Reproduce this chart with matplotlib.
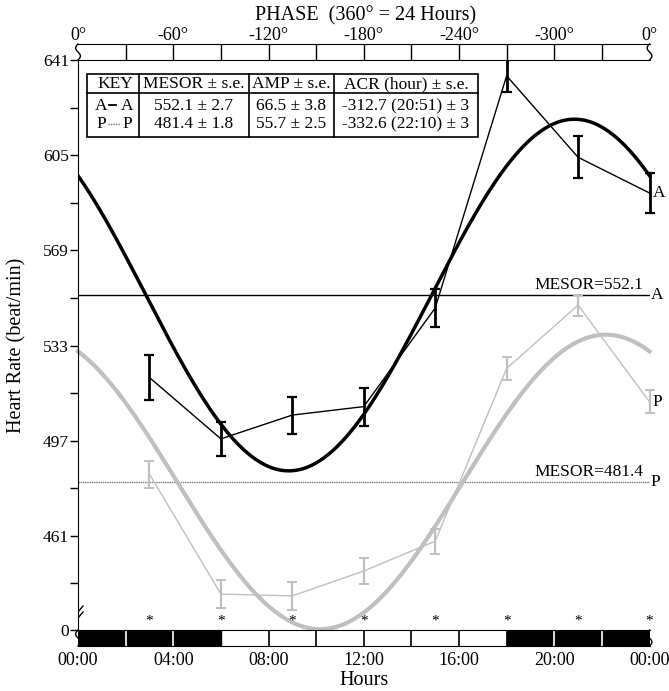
import numpy as np
import matplotlib.pyplot as plt
from matplotlib.lines import Line2D
from matplotlib.patches import Rectangle

plt.rcParams['font.family'] = ['Liberation Serif', 'DejaVu Serif']
plt.rcParams['font.size'] = 12.5

# sampling times (hours) and group means +/- s.e.
hours = np.array([3, 6, 9, 12, 15, 18, 21, 24])
a_mean = np.array([520.9, 497.7, 506.7, 509.9, 547.2, 635.0, 604.2, 590.7])
a_se = np.array([8.5, 6.4, 7.0, 7.2, 7.2, 6.2, 8.0, 7.6])
p_mean = np.array([484.4, 439.0, 438.3, 447.7, 459.0, 524.3, 548.3, 511.7])
p_se = np.array([5.1, 5.3, 5.3, 4.9, 4.7, 4.3, 4.0, 4.4])

# cosinor parameters
keys = ['A', 'P']
mesor = [552.1, 481.4]
amp = [66.5, 55.7]
acr_hour = [20 + 51 / 60, 22 + 10 / 60]
mesor_txt = ['552.1 \u00b1 2.7', '481.4 \u00b1 1.8']
amp_txt = ['66.5 \u00b1 3.8', '55.7 \u00b1 2.5']
acr_txt = ['-312.7 (20:51) \u00b1 3', '-332.6 (22:10) \u00b1 3']

yticks_major = [641, 605, 569, 533, 497, 461]
yticks_minor = [623, 587, 551, 515, 479, 443]
y_bottom = 425.4
phase_ticks = [0, 4, 8, 12, 16, 20, 24]
phase_labels = ['0\u00b0', '-60\u00b0', '-120\u00b0', '-180\u00b0', '-240\u00b0', '-300\u00b0', '0\u00b0']
hour_labels = ['00:00', '04:00', '08:00', '12:00', '16:00', '20:00', '00:00']

W, H = 669, 691
fx = lambda px: px / W
fy = lambda py: 1 - py / H

gray = '#c0c0c0'
fig = plt.figure(figsize=(W / 100, H / 100), dpi=100)
x0, x1 = 78, 649.5
ax = fig.add_axes([fx(x0), fy(630), (x1 - x0) / W, 570 / H])
pax = fig.add_axes([fx(x0), fy(60), (x1 - x0) / W, 16 / H])
bax = fig.add_axes([fx(x0), fy(646), (x1 - x0) / W, 16 / H])

# main panel
ax.set_xlim(0, 24)
ax.set_ylim(y_bottom, 641)
for s in ['top', 'right', 'bottom']:
    ax.spines[s].set_visible(False)
ax.set_xticks([])
ax.set_yticks(yticks_major + [y_bottom])
ax.set_yticklabels([str(v) for v in yticks_major] + ['0'])
ax.set_yticks(yticks_minor, minor=True)
ax.tick_params(axis='y', which='both', direction='out', length=6, width=1, pad=0.5,
               labelsize=12.5)

t = np.linspace(0, 24, 400)
fit_a = mesor[0] + amp[0] * np.cos(2 * np.pi * (t - acr_hour[0]) / 24)
fit_p = mesor[1] + amp[1] * np.cos(2 * np.pi * (t - acr_hour[1]) / 24)
ax.plot(t, fit_p, color=gray, lw=3, clip_on=False, zorder=2)
ax.plot(t, fit_a, color='black', lw=2.5, zorder=3)

ax.axhline(mesor[0], color='black', lw=1, zorder=1)
ax.axhline(mesor[1], color='#777777', lw=1, ls=(0, (1, 0.6)), zorder=1)
ax.text(23.75, mesor[0] + 0.6, 'MESOR=%.1f' % mesor[0], ha='right', va='bottom')
ax.text(23.75, mesor[1] + 0.6, 'MESOR=%.1f' % mesor[1], ha='right', va='bottom')
ax.text(24.05, mesor[0], 'A', ha='left', va='center', clip_on=False)
ax.text(24.05, mesor[1], 'P', ha='left', va='center', clip_on=False)

ax.errorbar(hours, p_mean, yerr=p_se, color=gray, lw=1, elinewidth=1.6,
            capsize=3.6, capthick=1.4, clip_on=False, zorder=4)
ax.errorbar(hours, a_mean, yerr=a_se, color='black', lw=1, elinewidth=2,
            capsize=3.6, capthick=1.6, clip_on=False, zorder=5)
ax.text(24.12, a_mean[-1], 'A', ha='left', va='center', clip_on=False)
ax.text(24.12, p_mean[-1], 'P', ha='left', va='center', clip_on=False)

for h in hours:
    ax.text(h, 428.6, '*', ha='center', va='center', fontsize=11, clip_on=False)

# axis break marks
for dy in (0, 6):
    ax.add_artist(Line2D([fx(73), fx(83)], [fy(624 - dy), fy(612 - dy)],
                         transform=fig.transFigure, color='black', lw=1))

fig.text(fx(17), fy(345), 'Heart Rate (beat/min)', rotation=90, ha='center', va='center',
         fontsize=14.5)


def wavy(a, x):
    yy = np.linspace(0, 1, 40)
    a.plot(x + 0.1 * np.sin(2 * np.pi * yy), yy, color='black', lw=1, clip_on=False)


# phase bar
pax.set_xlim(0, 24)
pax.set_ylim(0, 1)
for s in ['left', 'right']:
    pax.spines[s].set_visible(False)
pax.set_yticks([])
pax.xaxis.tick_top()
pax.set_xticks(phase_ticks)
pax.set_xticklabels(phase_labels)
pax.tick_params(axis='x', length=0, pad=0, labelsize=13)
for h in range(2, 24, 2):
    pax.axvline(h, color='black', lw=1)
wavy(pax, 0)
wavy(pax, 24)
fig.text(fx(366), fy(16), 'PHASE  (360\u00b0 = 24 Hours)', ha='center', va='center',
         fontsize=14.5)

# light/dark bar
bax.set_xlim(0, 24)
bax.set_ylim(0, 1)
for s in ['left', 'right']:
    bax.spines[s].set_visible(False)
bax.set_yticks([])
bax.add_patch(Rectangle((0, 0), 6, 1, color='black'))
bax.add_patch(Rectangle((18, 0), 6, 1, color='black'))
for h in range(2, 24, 2):
    bax.axvline(h, color='white' if (h < 6 or h > 18) else 'black', lw=1.2)
wavy(bax, 0)
wavy(bax, 24)
bax.set_xticks(phase_ticks)
bax.set_xticklabels(hour_labels)
bax.tick_params(axis='x', length=0, pad=4, labelsize=13)
bax.set_xlabel('Hours', fontsize=14.5, labelpad=2)

# key table
tl, tr, tt, tb, th = 87, 478, 74, 137, 93
fig.add_artist(Rectangle((fx(tl), fy(tb)), (tr - tl) / W, (tb - tt) / H,
                         transform=fig.transFigure, fill=False, lw=1.2, ec='black'))
fig.add_artist(Line2D([fx(tl), fx(tr)], [fy(th), fy(th)], transform=fig.transFigure,
                      color='black', lw=1.2))
for cx in (139, 249, 334):
    fig.add_artist(Line2D([fx(cx), fx(cx)], [fy(tt), fy(tb)], transform=fig.transFigure,
                          color='black', lw=1.2))
heads = ['KEY', 'MESOR \u00b1 s.e.', 'AMP \u00b1 s.e.', 'ACR (hour) \u00b1 s.e.']
centers = [115, 194, 291, 406]
for c, txt in zip(centers, heads):
    fig.text(fx(c), fy(84), txt, ha='center', va='center')
rows_y = [106, 124]
for i, ry in enumerate(rows_y):
    fig.text(fx(101), fy(ry), keys[i], ha='center', va='center')
    fig.text(fx(127), fy(ry), keys[i], ha='center', va='center')
    fig.text(fx(centers[1]), fy(ry), mesor_txt[i], ha='center', va='center')
    fig.text(fx(centers[2]), fy(ry), amp_txt[i], ha='center', va='center')
    fig.text(fx(centers[3]), fy(ry), acr_txt[i], ha='center', va='center')
fig.add_artist(Line2D([fx(109), fx(116)], [fy(105), fy(105)], transform=fig.transFigure,
                      color='black', lw=1.3))
fig.add_artist(Line2D([fx(108), fx(120)], [fy(124), fy(124)], transform=fig.transFigure,
                      color='#777777', lw=1, ls=(0, (1, 0.8))))

fig.savefig('out.png', dpi=100)
